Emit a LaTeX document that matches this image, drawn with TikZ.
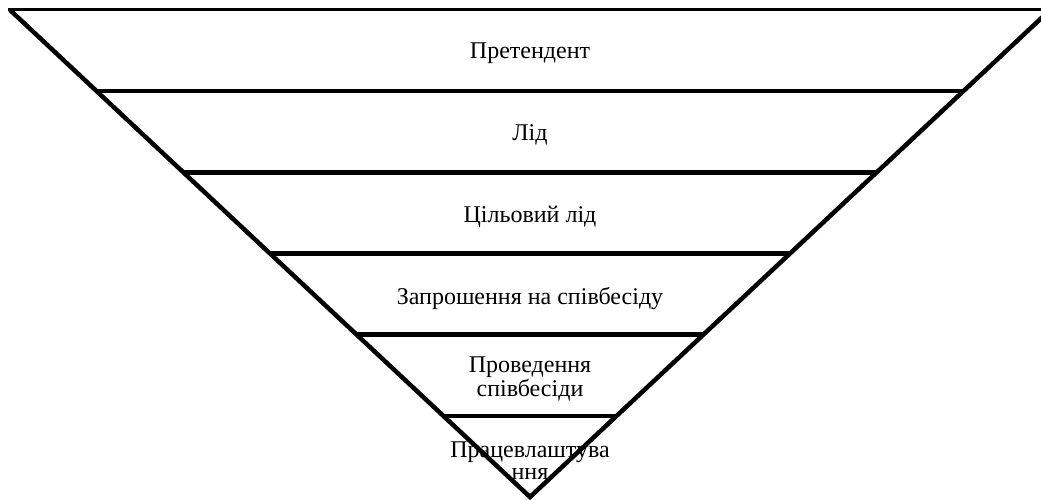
\documentclass[tikz,border=0pt]{standalone}
\usepackage{fontspec}
\setmainfont{Liberation Serif}
\newfontfamily\tierfont{Liberation Serif}
\usepackage{tikz}
\usetikzlibrary{calc}

\tikzset{
  funnel edge/.style={draw=black, line width=4.5pt, line join=miter},
  funnel rim/.style={draw=black, line width=3pt},
  tier line/.style={draw=black, line width=4.5pt},
  tier label/.style={font=\tierfont\fontsize{24}{22}\selectfont, align=center, inner sep=0pt}
}

\begin{document}
\begin{tikzpicture}[x=1pt,y=-1pt]
\useasboundingbox (0,0) rectangle (1041,500);
\clip (0,0) rectangle (1041,500);

\coordinate (tl) at (10,10);
\coordinate (tr) at (1050,10);
\coordinate (apex) at (530,497);

% tier texts, lines go over them
\node[tier label] (pretendent) at (530,53.5)  {Претендент};
\node[tier label] (lead)       at (530,134.5) {Лід};
\node[tier label] (targetlead) at (530,216.5) {Цільовий лід};
\node[tier label] (invite)     at (530,298.5) {Запрошення на співбесіду};
\node[tier label] (interview)  at (530,379)   {Проведення\\співбесіди};
\node[tier label] (hire)       at (530,461)   {Працевлаштува\\ння};

\draw[funnel rim] ($(tl)+(-2,0)$) -- (tr);
\draw[funnel edge] (tl) -- (apex) -- (tr);
\foreach \k in {1,...,5}
  \draw[tier line] ($(tl)!\k/6!(apex)$) -- ($(tr)!\k/6!(apex)$);
\end{tikzpicture}
\end{document}
